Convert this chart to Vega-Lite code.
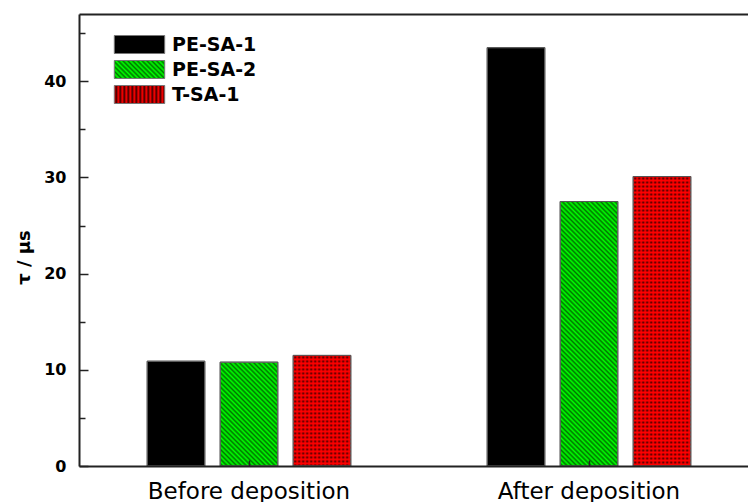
{
  "$schema": "https://vega.github.io/schema/vega-lite/v6.json",
  "width": 669,
  "height": 452,
  "autosize": {"type": "none"},
  "padding": {"left": 79, "top": 14, "right": 0, "bottom": 36},
  "background": "#ffffff",
  "config": {
    "view": {"stroke": null},
    "font": "DejaVu Sans",
    "axis": {"grid": false, "domainColor": "#222222", "domainWidth": 2, "tickColor": "#222222", "tickWidth": 1.5, "labelColor": "#000000", "titleColor": "#000000", "labelFont": "DejaVu Sans", "titleFont": "DejaVu Sans"}
  },
  "data": {
    "values": [
      {"stage": "Before deposition", "series": "PE-SA-1", "tau": 10.9},
      {"stage": "Before deposition", "series": "PE-SA-2", "tau": 10.8},
      {"stage": "Before deposition", "series": "T-SA-1", "tau": 11.5},
      {"stage": "After deposition", "series": "PE-SA-1", "tau": 43.5},
      {"stage": "After deposition", "series": "PE-SA-2", "tau": 27.5},
      {"stage": "After deposition", "series": "T-SA-1", "tau": 30.1}
    ]
  },
  "resolve": {"axis": {"x": "independent", "y": "independent"}},
  "layer": [
    {
      "mark": {"type": "bar", "strokeWidth": 1},
      "encoding": {
        "x": {"field": "stage", "type": "nominal", "sort": ["Before deposition", "After deposition"], "scale": {"range": [0, 680], "paddingInner": 0.356, "paddingOuter": 0.178},
          "axis": {"orient": "bottom", "title": null, "labelAngle": 0, "labelFontSize": 23, "labelPadding": 20, "labelLimit": 400, "tickSize": -6, "zindex": 1}},
        "xOffset": {"field": "series", "type": "nominal", "sort": ["PE-SA-1", "PE-SA-2", "T-SA-1"], "scale": {"paddingInner": 0.21, "paddingOuter": 0.105}},
        "y": {"field": "tau", "type": "quantitative", "scale": {"domain": [0, 47], "nice": false},
          "axis": {"orient": "left", "values": [0, 10, 20, 30, 40], "tickSize": -9, "labelFontSize": 16, "labelFontWeight": "bold", "labelPadding": 22, "title": "τ / μs", "titleFontSize": 18, "titleFontWeight": "bold", "titleAngle": -90, "titleX": -50, "titleY": 243, "titleAlign": "center", "titleBaseline": "alphabetic"}},
        "stroke": {
          "field": "series", "type": "nominal",
          "scale": {"domain": ["PE-SA-1", "PE-SA-2", "T-SA-1"], "range": ["#777777", "#777777", "#777777"]},
          "legend": {
            "orient": "none", "legendX": 51, "legendY": 21, "title": null, "padding": 0,
            "symbolType": "M-2.8,-1H2.8V1H-2.8Z", "symbolSize": 324, "symbolStrokeWidth": 1,
            "labelFont": "DejaVu Sans", "labelFontSize": 19, "labelFontWeight": "bold", "labelColor": "#000000", "labelOffset": 23, "labelLimit": 300, "rowPadding": 2,
            "encoding": {"symbols": {
              "fill": {"condition": [
                {"test": "datum.value === 'PE-SA-2'", "value": {"gradient": "linear", "x1": 0, "y1": 1, "x2": 8.4464, "y2": -2.0166, "stops": [
                  {"offset":0,"color":"#0f0"},{"offset":0.005,"color":"#070"},{"offset":0.01,"color":"#0f0"},{"offset":0.015,"color":"#070"},{"offset":0.02,"color":"#0f0"},{"offset":0.025,"color":"#070"},{"offset":0.03,"color":"#0f0"},{"offset":0.035,"color":"#070"},{"offset":0.04,"color":"#0f0"},{"offset":0.045,"color":"#070"},
                  {"offset":0.05,"color":"#0f0"},{"offset":0.055,"color":"#070"},{"offset":0.06,"color":"#0f0"},{"offset":0.065,"color":"#070"},{"offset":0.07,"color":"#0f0"},{"offset":0.075,"color":"#070"},{"offset":0.08,"color":"#0f0"},{"offset":0.085,"color":"#070"},{"offset":0.09,"color":"#0f0"},{"offset":0.095,"color":"#070"},
                  {"offset":0.1,"color":"#0f0"},{"offset":0.105,"color":"#070"},{"offset":0.11,"color":"#0f0"},{"offset":0.115,"color":"#070"},{"offset":0.12,"color":"#0f0"},{"offset":0.125,"color":"#070"},{"offset":0.13,"color":"#0f0"},{"offset":0.135,"color":"#070"},{"offset":0.14,"color":"#0f0"},{"offset":0.145,"color":"#070"}
                ]}},
                {"test": "datum.value === 'T-SA-1'", "value": {"gradient": "linear", "x1": 0, "y1": 0, "x2": 7.937, "y2": 0, "stops": [
                  {"offset":0,"color":"#f00"},{"offset":0.005,"color":"#400"},{"offset":0.01,"color":"#f00"},{"offset":0.015,"color":"#400"},{"offset":0.02,"color":"#f00"},{"offset":0.025,"color":"#400"},{"offset":0.03,"color":"#f00"},{"offset":0.035,"color":"#400"},{"offset":0.04,"color":"#f00"},{"offset":0.045,"color":"#400"},
                  {"offset":0.05,"color":"#f00"},{"offset":0.055,"color":"#400"},{"offset":0.06,"color":"#f00"},{"offset":0.065,"color":"#400"},{"offset":0.07,"color":"#f00"},{"offset":0.075,"color":"#400"},{"offset":0.08,"color":"#f00"},{"offset":0.085,"color":"#400"},{"offset":0.09,"color":"#f00"},{"offset":0.095,"color":"#400"},
                  {"offset":0.1,"color":"#f00"},{"offset":0.105,"color":"#400"},{"offset":0.11,"color":"#f00"},{"offset":0.115,"color":"#400"},{"offset":0.12,"color":"#f00"},{"offset":0.125,"color":"#400"},{"offset":0.13,"color":"#f00"},{"offset":0.135,"color":"#400"},{"offset":0.14,"color":"#f00"},{"offset":0.145,"color":"#400"}
                ]}}
              ], "value": "#000000"},
              "strokeWidth": {"value": 1}
            }}
          }
        },
        "fill": {
          "condition": [
            {"test": "datum.series === 'PE-SA-2' && datum.stage === 'Before deposition'", "value": {"gradient": "linear", "x1": 0, "y1": 1, "x2": 1.961, "y2": -2.5326, "stops": [
              {"offset":0,"color":"#0f0"},{"offset":0.005,"color":"#070"},{"offset":0.01,"color":"#0f0"},{"offset":0.015,"color":"#070"},{"offset":0.02,"color":"#0f0"},{"offset":0.025,"color":"#070"},{"offset":0.03,"color":"#0f0"},{"offset":0.035,"color":"#070"},{"offset":0.04,"color":"#0f0"},{"offset":0.045,"color":"#070"},
              {"offset":0.05,"color":"#0f0"},{"offset":0.055,"color":"#070"},{"offset":0.06,"color":"#0f0"},{"offset":0.065,"color":"#070"},{"offset":0.07,"color":"#0f0"},{"offset":0.075,"color":"#070"},{"offset":0.08,"color":"#0f0"},{"offset":0.085,"color":"#070"},{"offset":0.09,"color":"#0f0"},{"offset":0.095,"color":"#070"},
              {"offset":0.1,"color":"#0f0"},{"offset":0.105,"color":"#070"},{"offset":0.11,"color":"#0f0"},{"offset":0.115,"color":"#070"},{"offset":0.12,"color":"#0f0"},{"offset":0.125,"color":"#070"},{"offset":0.13,"color":"#0f0"},{"offset":0.135,"color":"#070"},{"offset":0.14,"color":"#0f0"},{"offset":0.145,"color":"#070"},
              {"offset":0.15,"color":"#0f0"},{"offset":0.155,"color":"#070"},{"offset":0.16,"color":"#0f0"},{"offset":0.165,"color":"#070"},{"offset":0.17,"color":"#0f0"},{"offset":0.175,"color":"#070"},{"offset":0.18,"color":"#0f0"},{"offset":0.185,"color":"#070"},{"offset":0.19,"color":"#0f0"},{"offset":0.195,"color":"#070"},
              {"offset":0.2,"color":"#0f0"},{"offset":0.205,"color":"#070"},{"offset":0.21,"color":"#0f0"},{"offset":0.215,"color":"#070"},{"offset":0.22,"color":"#0f0"},{"offset":0.225,"color":"#070"},{"offset":0.23,"color":"#0f0"},{"offset":0.235,"color":"#070"},{"offset":0.24,"color":"#0f0"},{"offset":0.245,"color":"#070"},
              {"offset":0.25,"color":"#0f0"},{"offset":0.255,"color":"#070"},{"offset":0.26,"color":"#0f0"},{"offset":0.265,"color":"#070"},{"offset":0.27,"color":"#0f0"},{"offset":0.275,"color":"#070"},{"offset":0.28,"color":"#0f0"},{"offset":0.285,"color":"#070"},{"offset":0.29,"color":"#0f0"},{"offset":0.295,"color":"#070"},
              {"offset":0.3,"color":"#0f0"},{"offset":0.305,"color":"#070"},{"offset":0.31,"color":"#0f0"},{"offset":0.315,"color":"#070"},{"offset":0.32,"color":"#0f0"},{"offset":0.325,"color":"#070"},{"offset":0.33,"color":"#0f0"},{"offset":0.335,"color":"#070"},{"offset":0.34,"color":"#0f0"}
            ]}},
            {"test": "datum.series === 'PE-SA-2'", "value": {"gradient": "linear", "x1": 0, "y1": 1, "x2": 0.3777, "y2": -0.7326, "stops": [
              {"offset":0,"color":"#0f0"},{"offset":0.005,"color":"#070"},{"offset":0.01,"color":"#0f0"},{"offset":0.015,"color":"#070"},{"offset":0.02,"color":"#0f0"},{"offset":0.025,"color":"#070"},{"offset":0.03,"color":"#0f0"},{"offset":0.035,"color":"#070"},{"offset":0.04,"color":"#0f0"},{"offset":0.045,"color":"#070"},
              {"offset":0.05,"color":"#0f0"},{"offset":0.055,"color":"#070"},{"offset":0.06,"color":"#0f0"},{"offset":0.065,"color":"#070"},{"offset":0.07,"color":"#0f0"},{"offset":0.075,"color":"#070"},{"offset":0.08,"color":"#0f0"},{"offset":0.085,"color":"#070"},{"offset":0.09,"color":"#0f0"},{"offset":0.095,"color":"#070"},
              {"offset":0.1,"color":"#0f0"},{"offset":0.105,"color":"#070"},{"offset":0.11,"color":"#0f0"},{"offset":0.115,"color":"#070"},{"offset":0.12,"color":"#0f0"},{"offset":0.125,"color":"#070"},{"offset":0.13,"color":"#0f0"},{"offset":0.135,"color":"#070"},{"offset":0.14,"color":"#0f0"},{"offset":0.145,"color":"#070"},
              {"offset":0.15,"color":"#0f0"},{"offset":0.155,"color":"#070"},{"offset":0.16,"color":"#0f0"},{"offset":0.165,"color":"#070"},{"offset":0.17,"color":"#0f0"},{"offset":0.175,"color":"#070"},{"offset":0.18,"color":"#0f0"},{"offset":0.185,"color":"#070"},{"offset":0.19,"color":"#0f0"},{"offset":0.195,"color":"#070"},
              {"offset":0.2,"color":"#0f0"},{"offset":0.205,"color":"#070"},{"offset":0.21,"color":"#0f0"},{"offset":0.215,"color":"#070"},{"offset":0.22,"color":"#0f0"},{"offset":0.225,"color":"#070"},{"offset":0.23,"color":"#0f0"},{"offset":0.235,"color":"#070"},{"offset":0.24,"color":"#0f0"},{"offset":0.245,"color":"#070"},
              {"offset":0.25,"color":"#0f0"},{"offset":0.255,"color":"#070"},{"offset":0.26,"color":"#0f0"},{"offset":0.265,"color":"#070"},{"offset":0.27,"color":"#0f0"},{"offset":0.275,"color":"#070"},{"offset":0.28,"color":"#0f0"},{"offset":0.285,"color":"#070"},{"offset":0.29,"color":"#0f0"},{"offset":0.295,"color":"#070"},
              {"offset":0.3,"color":"#0f0"},{"offset":0.305,"color":"#070"},{"offset":0.31,"color":"#0f0"},{"offset":0.315,"color":"#070"},{"offset":0.32,"color":"#0f0"},{"offset":0.325,"color":"#070"},{"offset":0.33,"color":"#0f0"},{"offset":0.335,"color":"#070"},{"offset":0.34,"color":"#0f0"},{"offset":0.345,"color":"#070"},
              {"offset":0.35,"color":"#0f0"},{"offset":0.355,"color":"#070"},{"offset":0.36,"color":"#0f0"},{"offset":0.365,"color":"#070"},{"offset":0.37,"color":"#0f0"},{"offset":0.375,"color":"#070"},{"offset":0.38,"color":"#0f0"},{"offset":0.385,"color":"#070"},{"offset":0.39,"color":"#0f0"},{"offset":0.395,"color":"#070"},
              {"offset":0.4,"color":"#0f0"},{"offset":0.405,"color":"#070"},{"offset":0.41,"color":"#0f0"},{"offset":0.415,"color":"#070"},{"offset":0.42,"color":"#0f0"},{"offset":0.425,"color":"#070"},{"offset":0.43,"color":"#0f0"},{"offset":0.435,"color":"#070"},{"offset":0.44,"color":"#0f0"},{"offset":0.445,"color":"#070"},
              {"offset":0.45,"color":"#0f0"},{"offset":0.455,"color":"#070"},{"offset":0.46,"color":"#0f0"},{"offset":0.465,"color":"#070"},{"offset":0.47,"color":"#0f0"},{"offset":0.475,"color":"#070"},{"offset":0.48,"color":"#0f0"},{"offset":0.485,"color":"#070"},{"offset":0.49,"color":"#0f0"},{"offset":0.495,"color":"#070"},
              {"offset":0.5,"color":"#0f0"},{"offset":0.505,"color":"#070"},{"offset":0.51,"color":"#0f0"},{"offset":0.515,"color":"#070"},{"offset":0.52,"color":"#0f0"},{"offset":0.525,"color":"#070"},{"offset":0.53,"color":"#0f0"},{"offset":0.535,"color":"#070"},{"offset":0.54,"color":"#0f0"},{"offset":0.545,"color":"#070"},
              {"offset":0.55,"color":"#0f0"},{"offset":0.555,"color":"#070"},{"offset":0.56,"color":"#0f0"},{"offset":0.565,"color":"#070"},{"offset":0.57,"color":"#0f0"},{"offset":0.575,"color":"#070"},{"offset":0.58,"color":"#0f0"},{"offset":0.585,"color":"#070"},{"offset":0.59,"color":"#0f0"},{"offset":0.595,"color":"#070"},
              {"offset":0.6,"color":"#0f0"},{"offset":0.605,"color":"#070"},{"offset":0.61,"color":"#0f0"},{"offset":0.615,"color":"#070"},{"offset":0.62,"color":"#0f0"},{"offset":0.625,"color":"#070"},{"offset":0.63,"color":"#0f0"},{"offset":0.635,"color":"#070"},{"offset":0.64,"color":"#0f0"},{"offset":0.645,"color":"#070"},
              {"offset":0.65,"color":"#0f0"},{"offset":0.655,"color":"#070"},{"offset":0.66,"color":"#0f0"},{"offset":0.665,"color":"#070"},{"offset":0.67,"color":"#0f0"},{"offset":0.675,"color":"#070"}
            ]}},
            {"test": "datum.series === 'T-SA-1'", "value": {"gradient": "linear", "x1": 0, "y1": 0, "x2": 6.937, "y2": 0, "stops": [
              {"offset":0,"color":"#f00"},{"offset":0.005,"color":"#400"},{"offset":0.01,"color":"#f00"},{"offset":0.015,"color":"#400"},{"offset":0.02,"color":"#f00"},{"offset":0.025,"color":"#400"},{"offset":0.03,"color":"#f00"},{"offset":0.035,"color":"#400"},{"offset":0.04,"color":"#f00"},{"offset":0.045,"color":"#400"},
              {"offset":0.05,"color":"#f00"},{"offset":0.055,"color":"#400"},{"offset":0.06,"color":"#f00"},{"offset":0.065,"color":"#400"},{"offset":0.07,"color":"#f00"},{"offset":0.075,"color":"#400"},{"offset":0.08,"color":"#f00"},{"offset":0.085,"color":"#400"},{"offset":0.09,"color":"#f00"},{"offset":0.095,"color":"#400"},
              {"offset":0.1,"color":"#f00"},{"offset":0.105,"color":"#400"},{"offset":0.11,"color":"#f00"},{"offset":0.115,"color":"#400"},{"offset":0.12,"color":"#f00"},{"offset":0.125,"color":"#400"},{"offset":0.13,"color":"#f00"},{"offset":0.135,"color":"#400"},{"offset":0.14,"color":"#f00"},{"offset":0.145,"color":"#400"}
            ]}}
          ],
          "value": "#000000"
        }
      }
    },
    {
      "transform": [{"filter": "datum.series === 'T-SA-1'"}],
      "mark": {"type": "bar"},
      "encoding": {
        "x": {"field": "stage", "type": "nominal", "sort": ["Before deposition", "After deposition"], "axis": null},
        "xOffset": {"field": "series", "type": "nominal", "sort": ["PE-SA-1", "PE-SA-2", "T-SA-1"]},
        "y": {"field": "tau", "type": "quantitative", "axis": null},
        "fill": {
          "condition": {"test": "datum.stage === 'Before deposition'", "value": {"gradient": "linear", "x1": 0, "y1": 0, "x2": 0.0001, "y2": 3.6166, "stops": [
            {"offset":0,"color":"#f00"},{"offset":0.005,"color":"#f000"},{"offset":0.01,"color":"#f00"},{"offset":0.015,"color":"#f000"},{"offset":0.02,"color":"#f00"},{"offset":0.025,"color":"#f000"},{"offset":0.03,"color":"#f00"},{"offset":0.035,"color":"#f000"},{"offset":0.04,"color":"#f00"},{"offset":0.045,"color":"#f000"},
            {"offset":0.05,"color":"#f00"},{"offset":0.055,"color":"#f000"},{"offset":0.06,"color":"#f00"},{"offset":0.065,"color":"#f000"},{"offset":0.07,"color":"#f00"},{"offset":0.075,"color":"#f000"},{"offset":0.08,"color":"#f00"},{"offset":0.085,"color":"#f000"},{"offset":0.09,"color":"#f00"},{"offset":0.095,"color":"#f000"},
            {"offset":0.1,"color":"#f00"},{"offset":0.105,"color":"#f000"},{"offset":0.11,"color":"#f00"},{"offset":0.115,"color":"#f000"},{"offset":0.12,"color":"#f00"},{"offset":0.125,"color":"#f000"},{"offset":0.13,"color":"#f00"},{"offset":0.135,"color":"#f000"},{"offset":0.14,"color":"#f00"},{"offset":0.145,"color":"#f000"},
            {"offset":0.15,"color":"#f00"},{"offset":0.155,"color":"#f000"},{"offset":0.16,"color":"#f00"},{"offset":0.165,"color":"#f000"},{"offset":0.17,"color":"#f00"},{"offset":0.175,"color":"#f000"},{"offset":0.18,"color":"#f00"},{"offset":0.185,"color":"#f000"},{"offset":0.19,"color":"#f00"},{"offset":0.195,"color":"#f000"},
            {"offset":0.2,"color":"#f00"},{"offset":0.205,"color":"#f000"},{"offset":0.21,"color":"#f00"},{"offset":0.215,"color":"#f000"},{"offset":0.22,"color":"#f00"},{"offset":0.225,"color":"#f000"},{"offset":0.23,"color":"#f00"},{"offset":0.235,"color":"#f000"},{"offset":0.24,"color":"#f00"},{"offset":0.245,"color":"#f000"},
            {"offset":0.25,"color":"#f00"},{"offset":0.255,"color":"#f000"},{"offset":0.26,"color":"#f00"},{"offset":0.265,"color":"#f000"},{"offset":0.27,"color":"#f00"},{"offset":0.275,"color":"#f000"},{"offset":0.28,"color":"#f00"}
          ]}},
          "value": {"gradient": "linear", "x1": 0, "y1": 0, "x2": 0.0001, "y2": 1.3818, "stops": [
            {"offset":0,"color":"#f00"},{"offset":0.005,"color":"#f000"},{"offset":0.01,"color":"#f00"},{"offset":0.015,"color":"#f000"},{"offset":0.02,"color":"#f00"},{"offset":0.025,"color":"#f000"},{"offset":0.03,"color":"#f00"},{"offset":0.035,"color":"#f000"},{"offset":0.04,"color":"#f00"},{"offset":0.045,"color":"#f000"},
            {"offset":0.05,"color":"#f00"},{"offset":0.055,"color":"#f000"},{"offset":0.06,"color":"#f00"},{"offset":0.065,"color":"#f000"},{"offset":0.07,"color":"#f00"},{"offset":0.075,"color":"#f000"},{"offset":0.08,"color":"#f00"},{"offset":0.085,"color":"#f000"},{"offset":0.09,"color":"#f00"},{"offset":0.095,"color":"#f000"},
            {"offset":0.1,"color":"#f00"},{"offset":0.105,"color":"#f000"},{"offset":0.11,"color":"#f00"},{"offset":0.115,"color":"#f000"},{"offset":0.12,"color":"#f00"},{"offset":0.125,"color":"#f000"},{"offset":0.13,"color":"#f00"},{"offset":0.135,"color":"#f000"},{"offset":0.14,"color":"#f00"},{"offset":0.145,"color":"#f000"},
            {"offset":0.15,"color":"#f00"},{"offset":0.155,"color":"#f000"},{"offset":0.16,"color":"#f00"},{"offset":0.165,"color":"#f000"},{"offset":0.17,"color":"#f00"},{"offset":0.175,"color":"#f000"},{"offset":0.18,"color":"#f00"},{"offset":0.185,"color":"#f000"},{"offset":0.19,"color":"#f00"},{"offset":0.195,"color":"#f000"},
            {"offset":0.2,"color":"#f00"},{"offset":0.205,"color":"#f000"},{"offset":0.21,"color":"#f00"},{"offset":0.215,"color":"#f000"},{"offset":0.22,"color":"#f00"},{"offset":0.225,"color":"#f000"},{"offset":0.23,"color":"#f00"},{"offset":0.235,"color":"#f000"},{"offset":0.24,"color":"#f00"},{"offset":0.245,"color":"#f000"},
            {"offset":0.25,"color":"#f00"},{"offset":0.255,"color":"#f000"},{"offset":0.26,"color":"#f00"},{"offset":0.265,"color":"#f000"},{"offset":0.27,"color":"#f00"},{"offset":0.275,"color":"#f000"},{"offset":0.28,"color":"#f00"},{"offset":0.285,"color":"#f000"},{"offset":0.29,"color":"#f00"},{"offset":0.295,"color":"#f000"},
            {"offset":0.3,"color":"#f00"},{"offset":0.305,"color":"#f000"},{"offset":0.31,"color":"#f00"},{"offset":0.315,"color":"#f000"},{"offset":0.32,"color":"#f00"},{"offset":0.325,"color":"#f000"},{"offset":0.33,"color":"#f00"},{"offset":0.335,"color":"#f000"},{"offset":0.34,"color":"#f00"},{"offset":0.345,"color":"#f000"},
            {"offset":0.35,"color":"#f00"},{"offset":0.355,"color":"#f000"},{"offset":0.36,"color":"#f00"},{"offset":0.365,"color":"#f000"},{"offset":0.37,"color":"#f00"},{"offset":0.375,"color":"#f000"},{"offset":0.38,"color":"#f00"},{"offset":0.385,"color":"#f000"},{"offset":0.39,"color":"#f00"},{"offset":0.395,"color":"#f000"},
            {"offset":0.4,"color":"#f00"},{"offset":0.405,"color":"#f000"},{"offset":0.41,"color":"#f00"},{"offset":0.415,"color":"#f000"},{"offset":0.42,"color":"#f00"},{"offset":0.425,"color":"#f000"},{"offset":0.43,"color":"#f00"},{"offset":0.435,"color":"#f000"},{"offset":0.44,"color":"#f00"},{"offset":0.445,"color":"#f000"},
            {"offset":0.45,"color":"#f00"},{"offset":0.455,"color":"#f000"},{"offset":0.46,"color":"#f00"},{"offset":0.465,"color":"#f000"},{"offset":0.47,"color":"#f00"},{"offset":0.475,"color":"#f000"},{"offset":0.48,"color":"#f00"},{"offset":0.485,"color":"#f000"},{"offset":0.49,"color":"#f00"},{"offset":0.495,"color":"#f000"},
            {"offset":0.5,"color":"#f00"},{"offset":0.505,"color":"#f000"},{"offset":0.51,"color":"#f00"},{"offset":0.515,"color":"#f000"},{"offset":0.52,"color":"#f00"},{"offset":0.525,"color":"#f000"},{"offset":0.53,"color":"#f00"},{"offset":0.535,"color":"#f000"},{"offset":0.54,"color":"#f00"},{"offset":0.545,"color":"#f000"},
            {"offset":0.55,"color":"#f00"},{"offset":0.555,"color":"#f000"},{"offset":0.56,"color":"#f00"},{"offset":0.565,"color":"#f000"},{"offset":0.57,"color":"#f00"},{"offset":0.575,"color":"#f000"},{"offset":0.58,"color":"#f00"},{"offset":0.585,"color":"#f000"},{"offset":0.59,"color":"#f00"},{"offset":0.595,"color":"#f000"},
            {"offset":0.6,"color":"#f00"},{"offset":0.605,"color":"#f000"},{"offset":0.61,"color":"#f00"},{"offset":0.615,"color":"#f000"},{"offset":0.62,"color":"#f00"},{"offset":0.625,"color":"#f000"},{"offset":0.63,"color":"#f00"},{"offset":0.635,"color":"#f000"},{"offset":0.64,"color":"#f00"},{"offset":0.645,"color":"#f000"},
            {"offset":0.65,"color":"#f00"},{"offset":0.655,"color":"#f000"},{"offset":0.66,"color":"#f00"},{"offset":0.665,"color":"#f000"},{"offset":0.67,"color":"#f00"},{"offset":0.675,"color":"#f000"},{"offset":0.68,"color":"#f00"},{"offset":0.685,"color":"#f000"},{"offset":0.69,"color":"#f00"},{"offset":0.695,"color":"#f000"},
            {"offset":0.7,"color":"#f00"},{"offset":0.705,"color":"#f000"},{"offset":0.71,"color":"#f00"},{"offset":0.715,"color":"#f000"},{"offset":0.72,"color":"#f00"},{"offset":0.725,"color":"#f000"}
          ]}
        }
      }
    },
    {
      "mark": {"type": "bar", "fillOpacity": 0, "stroke": "#555555", "strokeWidth": 1},
      "encoding": {
        "x": {"field": "stage", "type": "nominal", "sort": ["Before deposition", "After deposition"],
          "axis": {"orient": "top", "title": null, "labels": false, "ticks": false, "zindex": 1}},
        "xOffset": {"field": "series", "type": "nominal", "sort": ["PE-SA-1", "PE-SA-2", "T-SA-1"]},
        "y": {"field": "tau", "type": "quantitative",
          "axis": {"orient": "left", "values": [5, 15, 25, 35, 45], "tickSize": -6, "labels": false, "domain": false, "title": null}}
      }
    }
  ]
}
